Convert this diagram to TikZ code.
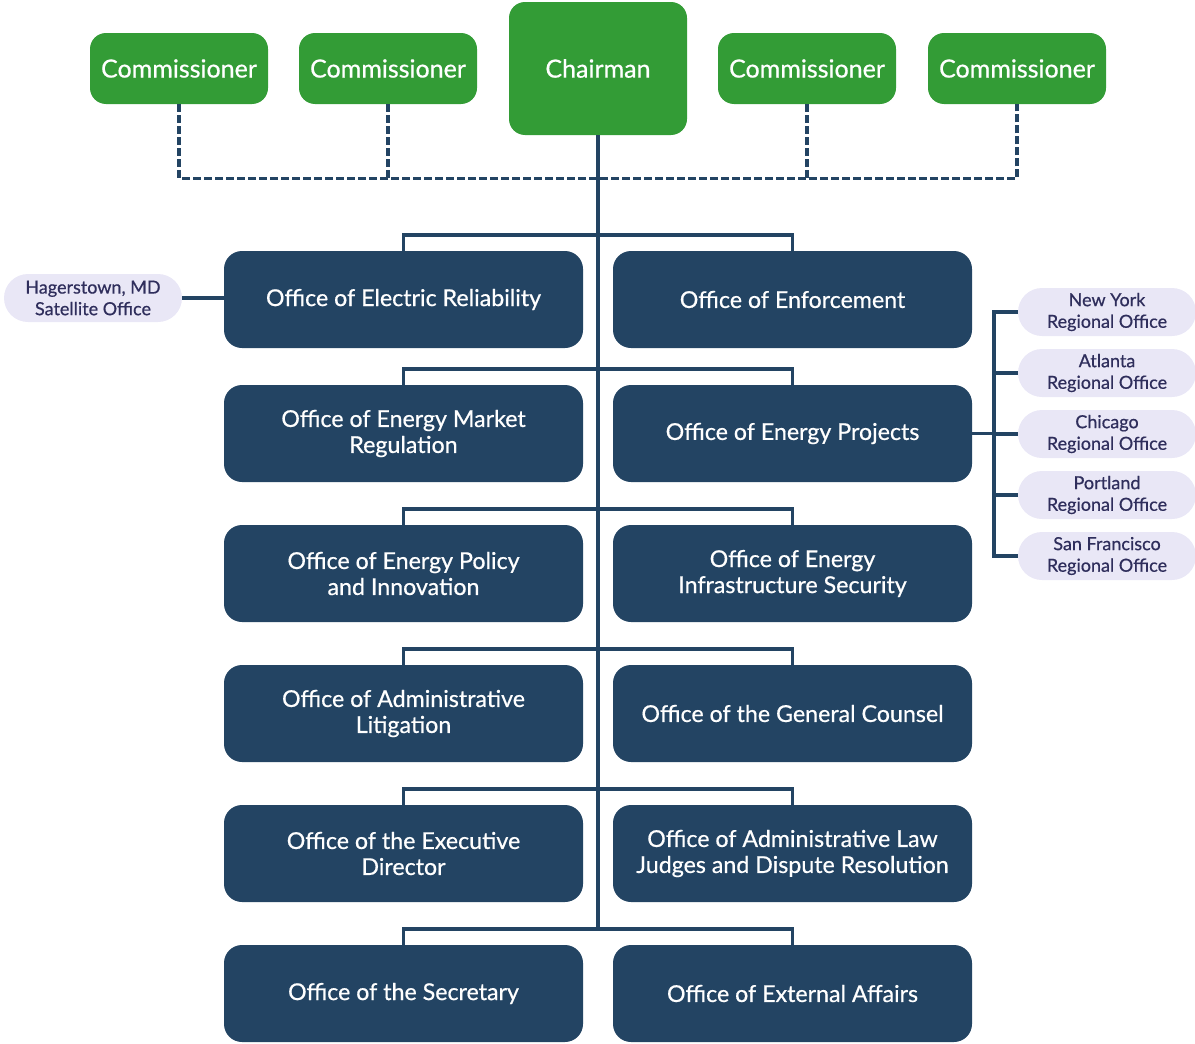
\documentclass[tikz,border=0pt]{standalone}
\usepackage{fontspec}
\setmainfont{Lato}[FakeBold=0.6]
\usetikzlibrary{positioning}
\definecolor{boardgreen}{HTML}{339C36}
\definecolor{officenavy}{HTML}{234463}
\definecolor{pillfill}{HTML}{E9E7F6}
\definecolor{pilltext}{HTML}{2F2E5C}
\tikzset{
    commbox/.style={
        rectangle,
        rounded corners=8pt,
        fill=boardgreen,
        text=white,
        minimum width=89pt,
        minimum height=35.5pt,
        font=\fontsize{12.5}{14}\selectfont
    },
    chairbox/.style={
        commbox,
        minimum height=66.5pt
    },
    officebox/.style={
        rectangle,
        rounded corners=9pt,
        fill=officenavy,
        text=white,
        minimum width=179.5pt,
        minimum height=48.5pt,
        align=center,
        font=\fontsize{11.6}{13}\selectfont
    },
    pill/.style={
        rectangle,
        rounded corners=12pt,
        fill=pillfill,
        text=pilltext,
        minimum width=89pt,
        minimum height=24pt,
        inner sep=1pt,
        align=center,
        font=\fontsize{9}{10.8}\selectfont
    },
    trunk/.style={draw=officenavy, line width=1.9pt},
    dashline/.style={draw=officenavy, line width=1.9pt, dash pattern=on 4pt off 1.5pt}
}

\begin{document}
\begin{tikzpicture}[x=0.5pt, y=-0.5pt]
    \useasboundingbox (0,0) rectangle (1195,1044);
    % board
    \node[chairbox] (chair) at (598,68.5) {Chairman};
    \node[commbox] (comA) at (179,68.5) {Commissioner};
    \node[commbox] (comB) at (388,68.5) {Commissioner};
    \node[commbox] (comC) at (807,68.5) {Commissioner};
    \node[commbox] (comD) at (1017,68.5) {Commissioner};
    \draw[dashline] (comA.south) -- ++(0,74) -| (comD.south);
    \draw[dashline] (comB.south) -- ++(0,74);
    \draw[dashline] (comC.south) -- ++(0,74);
    \draw[trunk] (chair.south) -- ++(0,793);
    % offices
    \foreach \y/\lname/\rname [count=\i] in {
        299.5/{Office of Electric Reliability}/{Office of Enforcement},
        433.5/{Office of Energy Market\\Regulation}/{Office of Energy Projects},
        573.5/{Office of Energy Policy\\and Innovation}/{Office of Energy\\Infrastructure Security},
        713.5/{Office of Administrative\\Litigation}/{Office of the General Counsel},
        853.5/{Office of the Executive\\Director}/{Office of Administrative Law\\Judges and Dispute Resolution},
        993.5/{Office of the Secretary}/{Office of External Affairs}}
    {
        \node[officebox] (L\i) at (403.5,\y) {\lname};
        \node[officebox] (R\i) at (792.5,\y) {\rname};
        \draw[trunk] (L\i.north) -- ++(0,-16) -| (R\i.north);
    }
    % satellite
    \node[pill] (hag) at (93,298) {Hagerstown, MD\\Satellite Office};
    \draw[trunk] (hag.east) -- (hag.east -| L1.west);
    % regional offices
    \foreach \y/\city [count=\j] in {312/New York, 373/Atlanta, 434/Chicago, 495/Portland, 556/San Francisco}
        \node[pill] (reg\j) at (1107,\y) {\city\\Regional Office};
    \draw[trunk] (reg1.west) -- ++(-24,0) |- (reg5.west);
    \foreach \j in {2,3,4}
        \draw[trunk] (reg\j.west) -- ++(-24,0);
    \draw[trunk] (R2.east) -- (R2.east -| reg3.west);
\end{tikzpicture}
\end{document}
